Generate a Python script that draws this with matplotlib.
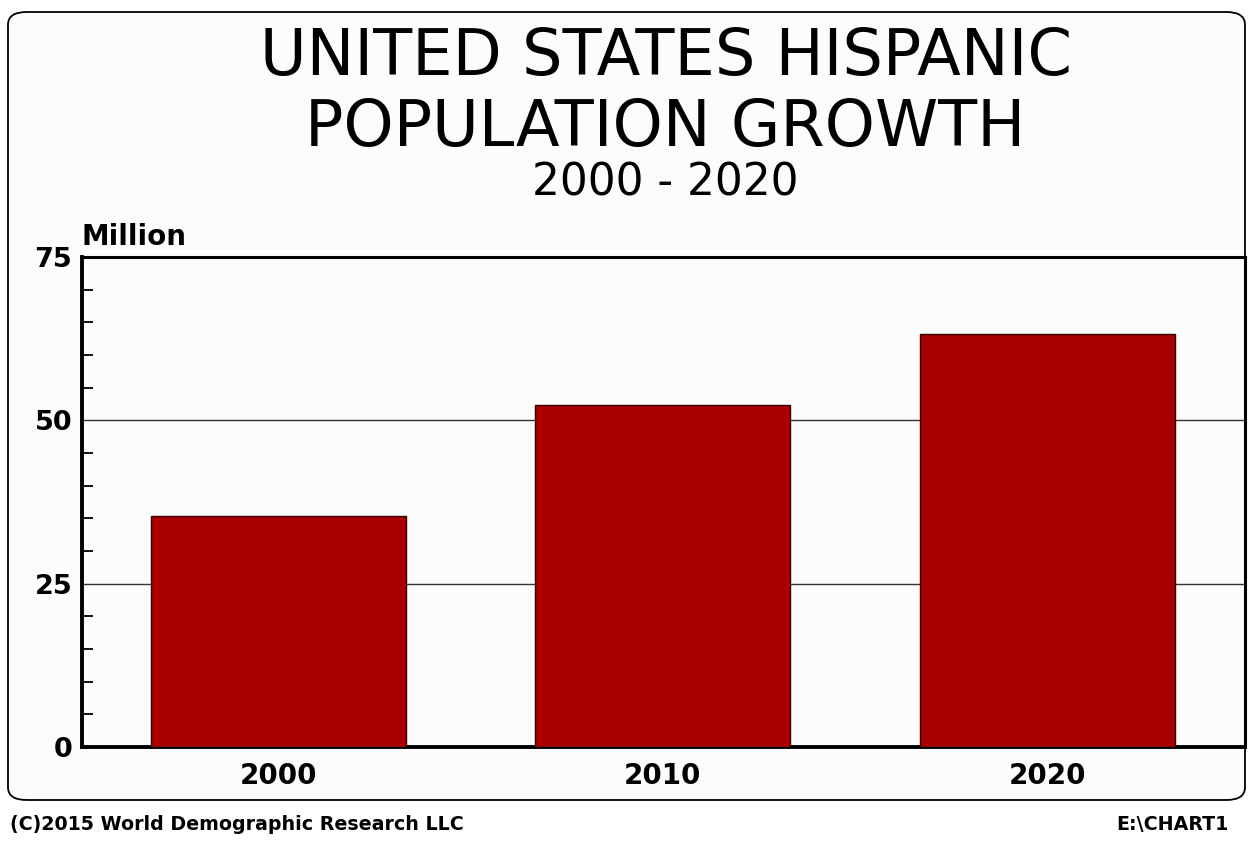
import matplotlib
matplotlib.use("Agg")
import matplotlib.pyplot as plt
from matplotlib.patches import FancyBboxPatch
from matplotlib.ticker import MultipleLocator, FixedLocator

years = ["2000", "2010", "2020"]
population_millions = [35.3, 52.3, 63.2]
y_ticks = [0, 25, 50, 75]

FONT = "DejaVu Sans"
BAR_COLOR = "#a80000"

fig = plt.figure(figsize=(12.51, 8.46), dpi=100)
fig.patch.set_facecolor("white")

# Rounded panel framing the chart
panel = FancyBboxPatch((8 / 1251, 46 / 846), (1245 - 8) / 1251, (834 - 46) / 846,
                       boxstyle="round,pad=0,rounding_size=0.015",
                       transform=fig.transFigure, facecolor="#fcfcfc",
                       edgecolor="black", linewidth=1.3, zorder=0)
fig.patches.append(panel)

ax = fig.add_axes([82 / 1251, 1 - 747 / 846, 1163 / 1251, 490 / 846])
ax.set_facecolor("#fcfcfc")
ax.set_zorder(1)

x = list(range(len(years)))
ax.bar(x, population_millions, width=0.663, color=BAR_COLOR,
       edgecolor="#3a0000", linewidth=1.0, zorder=3)

ax.set_xlim(-0.511, 2.514)
ax.set_ylim(0, 75)
ax.yaxis.set_major_locator(FixedLocator(y_ticks))
ax.yaxis.set_minor_locator(MultipleLocator(5))
ax.set_xticks(x)
ax.set_xticklabels(years)

for g in (25, 50):
    ax.axhline(g, color="#333333", linewidth=1.0, zorder=2)

ax.tick_params(axis="y", which="major", length=0, pad=7)
ax.tick_params(axis="y", which="minor", direction="in", length=8, width=1.3, color="black")
ax.tick_params(axis="x", which="both", length=0, pad=11)
for lbl in ax.get_yticklabels():
    lbl.set_fontfamily(FONT)
    lbl.set_fontweight("bold")
    lbl.set_fontsize(19.5)
for lbl in ax.get_xticklabels():
    lbl.set_fontfamily(FONT)
    lbl.set_fontweight("bold")
    lbl.set_fontsize(20)

for side in ("left", "bottom"):
    ax.spines[side].set_linewidth(2.8)
for side in ("top", "right"):
    ax.spines[side].set_linewidth(2.2)

# Titles
fig.text(0.532, 1 - 75 / 846, "UNITED STATES HISPANIC", ha="center", va="baseline",
         fontfamily=FONT, fontsize=46)
fig.text(0.532, 1 - 146 / 846, "POPULATION GROWTH", ha="center", va="baseline",
         fontfamily=FONT, fontsize=46)
fig.text(0.532, 1 - 195 / 846, "2000 - 2020", ha="center", va="baseline",
         fontfamily=FONT, fontsize=31.5)

fig.text(82 / 1251, 1 - 245 / 846, "Million", ha="left", va="baseline",
         fontfamily=FONT, fontsize=20, fontweight="bold")

fig.text(10 / 1251, 1 - 830 / 846, "(C)2015 World Demographic Research LLC", ha="left",
         va="baseline", fontfamily=FONT, fontsize=13.7, fontweight="bold")
fig.text(1229 / 1251, 1 - 830 / 846, "E:\\CHART1", ha="right", va="baseline",
         fontfamily=FONT, fontsize=13.7, fontweight="bold")

fig.savefig("out.png", dpi=100, facecolor="white")
